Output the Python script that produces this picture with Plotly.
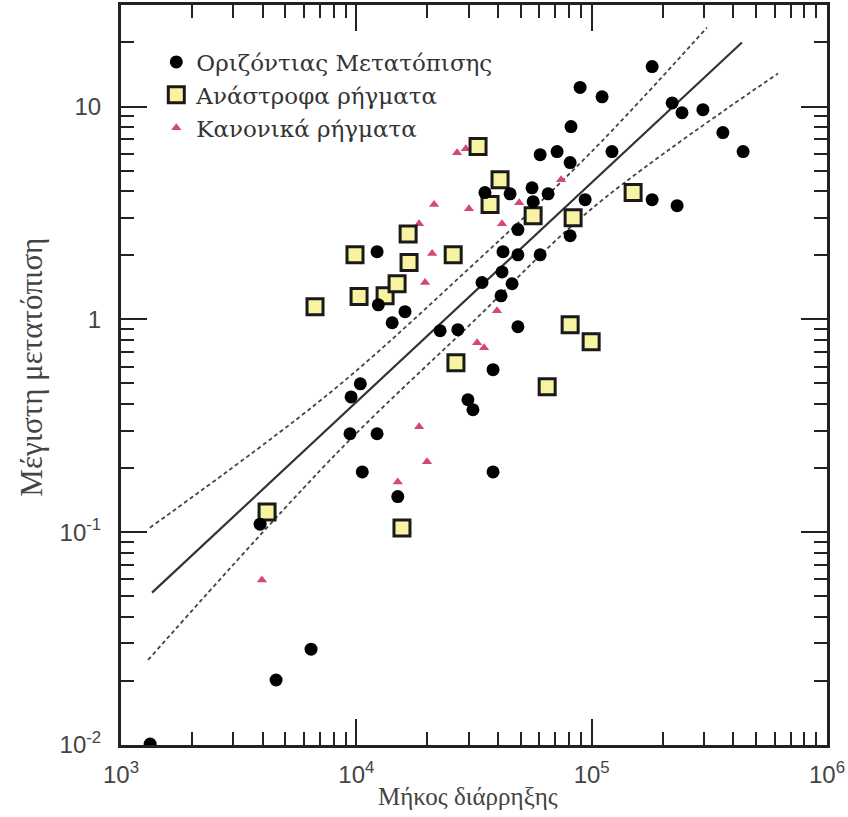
import plotly.graph_objects as go

# --- Data ---
strike_slip_len = [1330, 4560, 6420, 3900, 15000, 10600, 9400, 12250, 9500, 10400,
                   14200, 16100, 12400, 12250, 22700, 27000, 29800, 31300, 38100, 38100,
                   48600, 34200, 45900, 41200, 41600, 42000, 48600, 60400, 48600, 81000,
                   35200, 45000, 56400, 65300, 55800, 93800, 180700, 230700, 60400, 71300,
                   81000, 122000, 81700, 89300, 110700, 180700, 219800, 242000, 297000,
                   361000, 440000]
strike_slip_disp = [0.0101, 0.0202, 0.0282, 0.109, 0.147, 0.192, 0.290, 0.290, 0.432, 0.498,
                    0.964, 1.086, 1.17, 2.08, 0.884, 0.894, 0.419, 0.376, 0.580, 0.192,
                    0.923, 1.49, 1.47, 1.29, 1.67, 2.08, 2.01, 2.01, 2.64, 2.47,
                    3.94, 3.89, 3.57, 3.89, 4.15, 3.65, 3.65, 3.42, 5.94, 6.14,
                    5.45, 6.14, 8.05, 12.3, 11.1, 15.4, 10.4, 9.35, 9.66,
                    7.54, 6.14]

reverse_len = [6675, 9870, 10270, 13250, 14900, 16750, 16600, 25800, 32900, 40800,
               37000, 56400, 83400, 150000, 26500, 64700, 81000, 99500, 4175, 15630]
reverse_disp = [1.146, 2.01, 1.28, 1.29, 1.47, 1.85, 2.52, 2.01, 6.48, 4.53,
                3.46, 3.07, 3.0, 3.94, 0.625, 0.482, 0.943, 0.785, 0.1245, 0.1047]

normal_len = [3970, 15000, 19970, 18480, 32600, 34900, 39600, 19600, 21000, 18480,
              21400, 30100, 41600, 26800, 29200, 49200, 74100]
normal_disp = [0.0596, 0.172, 0.214, 0.313, 0.776, 0.735, 1.097, 1.49, 2.04, 2.81,
               3.46, 3.31, 2.81, 6.07, 6.34, 3.53, 4.53]

fit_x = [1355, 435000]
fit_y = [0.052, 20.0]
upper_x = [1327, 7730, 30400, 100000, 309000]
upper_y = [0.105, 0.452, 1.75, 6.14, 23.5]
lower_x = [1303, 8280, 30400, 100000, 619000]
lower_y = [0.0251, 0.236, 0.944, 3.31, 14.3]

x_tickvals = [1e3, 1e4, 1e5, 1e6]
x_ticktext = ["10<sup>3</sup>", "10<sup>4</sup>", "10<sup>5</sup>", "10<sup>6</sup>"]
y_tickvals = [0.01, 0.1, 1, 10]
y_ticktext = ["10<sup>-2</sup>", "10<sup>-1</sup>", "1", "10"]

names = ["Οριζόντιας Μετατόπισης", "Ανάστροφα ρήγματα", "Κανονικά ρήγματα"]
x_title = "Μήκος διάρρηξης"
y_title = "Μέγιστη μετατόπιση"

# minor tick positions (2..9 in each decade)
x_minor = [k * 10 ** e for e in range(3, 6) for k in range(2, 10)]
y_minor = [k * 10 ** e for e in range(-2, 2) for k in range(2, 10)]

SERIF = "Liberation Serif"
SANS = "Liberation Sans"

fig = go.Figure()

fig.add_trace(go.Scatter(x=upper_x, y=upper_y, mode="lines", showlegend=False,
                         line=dict(color="#444444", width=1.8, dash="4px,3px"), line_shape="spline"))
fig.add_trace(go.Scatter(x=lower_x, y=lower_y, mode="lines", showlegend=False,
                         line=dict(color="#444444", width=1.8, dash="4px,3px"), line_shape="spline"))
fig.add_trace(go.Scatter(x=fit_x, y=fit_y, mode="lines", showlegend=False,
                         line=dict(color="#333333", width=2.2)))

fig.add_trace(go.Scatter(x=normal_len, y=normal_disp, mode="markers", name=names[2], legendrank=3,
                         marker=dict(symbol="triangle-up", size=9, color="#d4477a")))
fig.add_trace(go.Scatter(x=reverse_len, y=reverse_disp, mode="markers", name=names[1], legendrank=2,
                         marker=dict(symbol="square", size=16, color="#f7f3a3",
                                     line=dict(color="#1a1a1a", width=3))))
fig.add_trace(go.Scatter(x=strike_slip_len, y=strike_slip_disp, mode="markers", name=names[0], legendrank=1,
                         marker=dict(symbol="circle", size=13, color="black")))

axis_common = dict(
    showline=True, linecolor="#222222", linewidth=3, mirror="ticks",
    ticks="inside", ticklen=26, tickwidth=2, tickcolor="#222222",
    showgrid=False, zeroline=False, automargin=False,
    tickfont=dict(family=SANS, size=24, color="#444444"),
)

fig.update_xaxes(type="log", range=[3, 6], tickmode="array", tickvals=x_tickvals, ticktext=x_ticktext,
                 ticklabelstandoff=6,
                 minor=dict(ticks="inside", ticklen=13, tickwidth=2, tickcolor="#222222",
                            tickmode="array", tickvals=x_minor, showgrid=False),
                 **axis_common)
fig.update_yaxes(type="log", range=[-2, 1.477], tickmode="array", tickvals=y_tickvals, ticktext=y_ticktext,
                 ticklabelstandoff=12,
                 minor=dict(ticks="inside", ticklen=13, tickwidth=2, tickcolor="#222222",
                            tickmode="array", tickvals=y_minor, showgrid=False),
                 **axis_common)

fig.add_annotation(text=x_title, xref="paper", yref="paper", x=0.492, y=-0.07,
                   xanchor="center", yanchor="middle", showarrow=False,
                   font=dict(family=SERIF, size=25, color="#444444"))
fig.add_annotation(text=y_title, xref="paper", yref="paper", x=-0.126, y=0.51,
                   xanchor="center", yanchor="middle", showarrow=False, textangle=-90,
                   font=dict(family=SERIF, size=31, color="#444444"))

fig.update_layout(
    width=848, height=817,
    margin=dict(l=121, r=21, t=5, b=72),
    plot_bgcolor="white", paper_bgcolor="white",
    legend=dict(x=0.05, y=0.952, xanchor="left", yanchor="top", bgcolor="rgba(0,0,0,0)",
                font=dict(family="DejaVu Serif", size=23, color="#333333"),
                tracegroupgap=0, itemsizing="trace"),
)

fig.write_html("out.html", config={"displayModeBar": False},
               post_script="document.body.style.margin='0px';")
